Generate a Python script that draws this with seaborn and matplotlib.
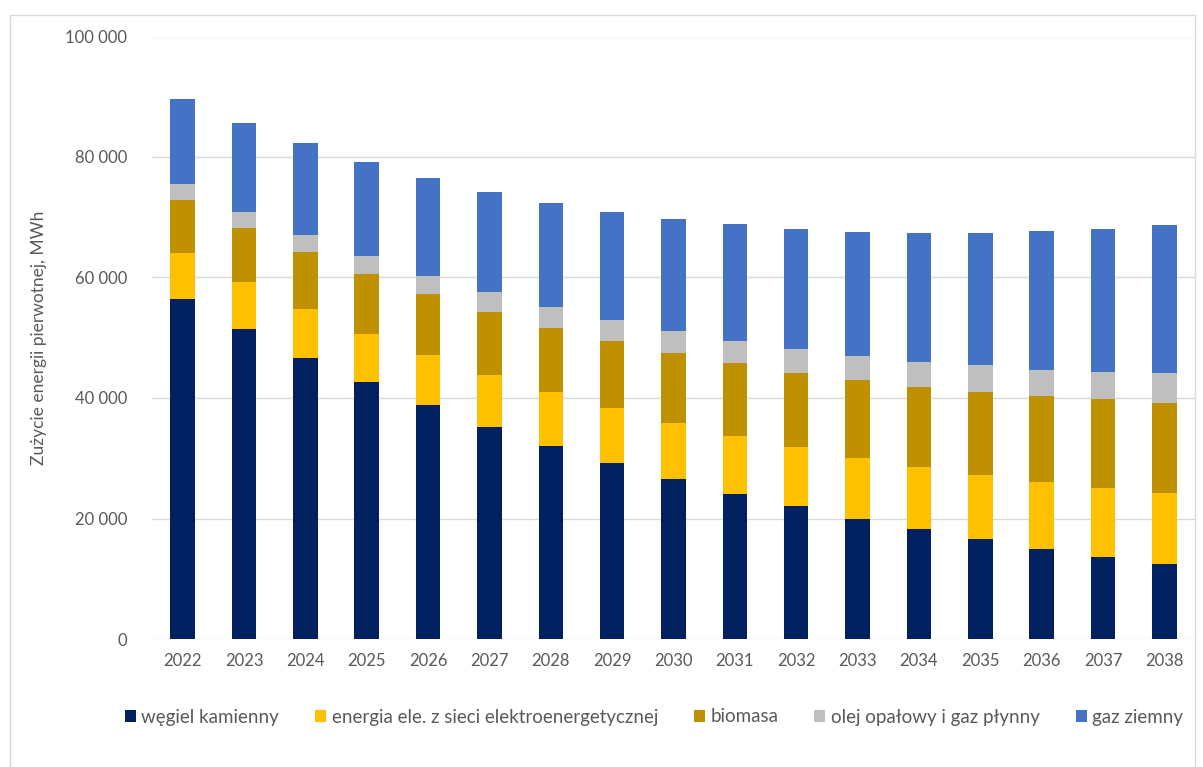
import matplotlib
matplotlib.use("Agg")
import matplotlib.pyplot as plt
import seaborn as sns
import numpy as np
import pandas as pd
from matplotlib.patches import Patch, Rectangle

years = [str(y) for y in range(2022, 2039)]
wegiel = [56.5, 51.4, 46.7, 42.6, 38.8, 35.2, 32.1, 29.2, 26.5, 24.0, 22.0, 19.9, 18.2, 16.6, 15.0, 13.6, 12.4]
energia = [7.5, 7.8, 8.1, 8.1, 8.3, 8.6, 8.9, 9.1, 9.4, 9.7, 9.8, 10.1, 10.4, 10.6, 11.1, 11.4, 11.8]
biomasa = [8.8, 9.0, 9.4, 9.8, 10.1, 10.4, 10.7, 11.1, 11.5, 12.1, 12.3, 13.0, 13.3, 13.8, 14.2, 14.8, 15.0]
olej = [2.7, 2.7, 2.8, 3.1, 3.0, 3.4, 3.4, 3.5, 3.7, 3.6, 4.1, 4.0, 4.1, 4.4, 4.3, 4.5, 4.9]
gaz = [14.1, 14.8, 15.3, 15.5, 16.3, 16.6, 17.3, 18.0, 18.6, 19.4, 19.9, 20.6, 21.4, 22.0, 23.2, 23.8, 24.6]

series_names = ["węgiel kamienny", "energia ele. z sieci elektroenergetycznej",
                "biomasa", "olej opałowy i gaz płynny", "gaz ziemny"]
series_vals = [wegiel, energia, biomasa, olej, gaz]
colors = ["#002060", "#FFC000", "#BF9000", "#BFBFBF", "#4472C4"]

sns.set_theme(style="white")
plt.rcParams["font.family"] = ["Lato", "DejaVu Sans"]

fig = plt.figure(figsize=(12.03, 7.67), dpi=100)
ax = fig.add_axes([152 / 1203, 1 - 639 / 767, (1195 - 152) / 1203, (639 - 36.5) / 767])

# stacked: draw cumulative totals from top series down
arr = np.array(series_vals) * 1000.0
cum = np.cumsum(arr, axis=0)
for i in reversed(range(len(series_names))):
    df = pd.DataFrame({"rok": years, "val": cum[i]})
    sns.barplot(data=df, x="rok", y="val", color=colors[i], saturation=1,
                width=0.4, ax=ax, zorder=3, linewidth=0)

ax.set_ylim(0, 100000)
ax.set_xlim(-0.5, len(years) - 0.5)
ax.set_yticks(np.arange(0, 100001, 20000))
ax.set_yticklabels([f"{int(v):,}".replace(",", " ") for v in np.arange(0, 100001, 20000)])
ax.yaxis.grid(True, color="#D9D9D9", linewidth=1, zorder=0)
ax.xaxis.grid(False)
for s in ax.spines.values():
    s.set_visible(False)
ax.tick_params(axis="both", length=0, colors="#595959", labelsize=12)
ax.tick_params(axis="y", pad=18)
ax.tick_params(axis="x", pad=10)
ax.set_xlabel("")
ax.set_ylabel("Zużycie energii pierwotnej, MWh", color="#595959", fontsize=12.5, labelpad=13)

handles = [Patch(facecolor=c, edgecolor="none", label=n) for c, n in zip(colors, series_names)]
fig.legend(handles=handles, loc="center", bbox_to_anchor=(654 / 1203, 1 - 717 / 767),
           ncol=5, frameon=False, fontsize=13.5, handlelength=0.6, handleheight=0.6,
           handletextpad=0.3, columnspacing=1.9, labelcolor="#595959")

fig.patches.append(Rectangle((10 / 1203, -0.01), (1195 - 10) / 1203, 1 - 15 / 767 + 0.01,
                             transform=fig.transFigure, fill=False,
                             edgecolor="#D9D9D9", linewidth=1))

fig.savefig("out.png", dpi=100)
